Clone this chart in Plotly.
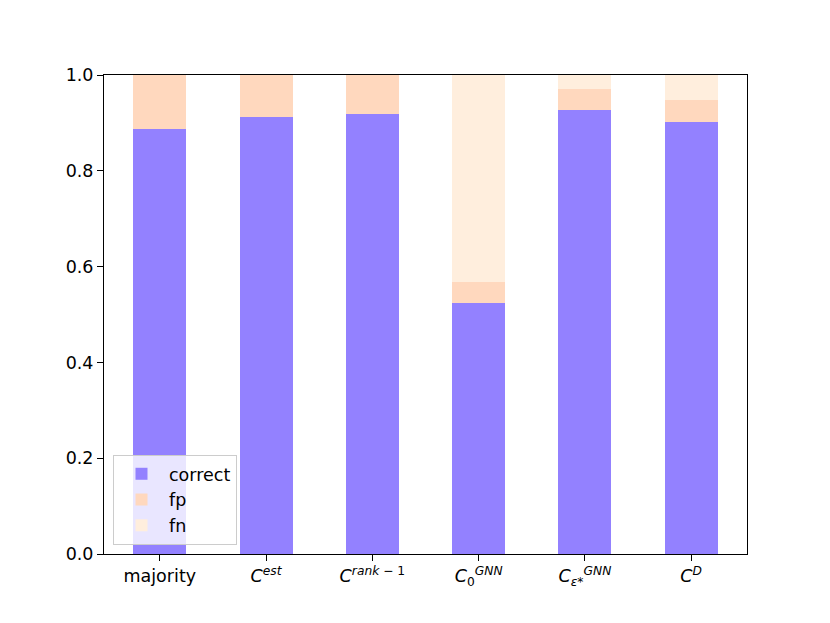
import plotly.graph_objects as go

categories = ["majority", "C^est", "C^rank-1", "C_0^GNN", "C_eps*^GNN", "C^D"]
tick_labels = [
    "majority",
    "<i>C</i><sup><i>est</i></sup>",
    "<i>C</i><sup><i>rank</i> − 1</sup>",
    "<i>C</i><sub>0</sub><sup><i>GNN</i></sup>",
    "<i>C</i><sub><i>ε</i>*</sub><sup><i>GNN</i></sup>",
    "<i>C</i><sup><i>D</i></sup>",
]
correct = [0.887, 0.913, 0.919, 0.523, 0.926, 0.902]
fp = [0.113, 0.087, 0.081, 0.044, 0.044, 0.046]
fn = [0.0, 0.0, 0.0, 0.433, 0.030, 0.052]

x = list(range(len(categories)))
font = dict(family="DejaVu Sans", size=17.5, color="black")

fig = go.Figure()
fig.add_bar(x=x, y=correct, name="correct", marker_color="#9381ff", width=0.5, marker_line_width=0)
fig.add_bar(x=x, y=fp, name="fp", marker_color="#ffd8be", width=0.5, marker_line_width=0)
fig.add_bar(x=x, y=fn, name="fn", marker_color="#ffeedd", width=0.5, marker_line_width=0)

fig.update_layout(
    barmode="stack",
    width=830, height=623,
    margin=dict(l=96, r=91, t=67, b=77),
    paper_bgcolor="white", plot_bgcolor="white",
    font=font,
    legend=dict(
        x=0.014, y=0.019, xanchor="left", yanchor="bottom",
        bgcolor="rgba(255,255,255,0.8)", bordercolor="#cccccc", borderwidth=1,
        font=font, traceorder="normal", itemwidth=45, tracegroupgap=0,
    ),
    showlegend=True,
)
fig.update_xaxes(
    range=[-0.525, 5.525], tickmode="array", tickvals=x, ticktext=tick_labels,
    showline=True, linecolor="black", linewidth=1, mirror=True,
    ticks="outside", ticklen=6, tickcolor="black", showgrid=False, zeroline=False,
)
fig.update_yaxes(
    range=[0, 1], tickmode="array", tickvals=[0, 0.2, 0.4, 0.6, 0.8, 1.0],
    tickformat=".1f",
    showline=True, linecolor="black", linewidth=1, mirror=True,
    ticks="outside", ticklen=6, tickcolor="black", showgrid=False, zeroline=False,
)
fig.write_html("out.html")
